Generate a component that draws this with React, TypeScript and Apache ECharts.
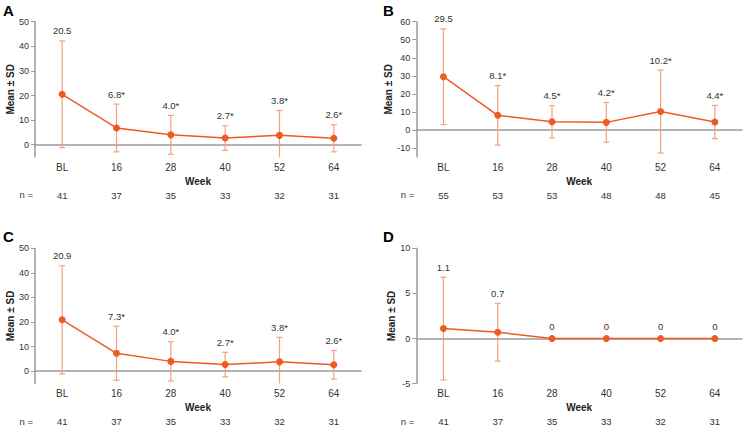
import React, { useEffect, useRef } from "react";
import * as echarts from "echarts";

const categories = ["BL", "16", "28", "40", "52", "64"];

const meanA = [20.5, 6.8, 4.0, 2.7, 3.8, 2.6];
const sdA = [21.7, 9.7, 7.9, 5.0, 10.1, 5.5];
const labelA = ["20.5", "6.8*", "4.0*", "2.7*", "3.8*", "2.6*"];
const nA = ["41", "37", "35", "33", "32", "31"];
const yTicksA = [0, 10, 20, 30, 40, 50];

const meanB = [29.5, 8.1, 4.5, 4.2, 10.2, 4.4];
const sdB = [26.5, 16.5, 9.0, 11.0, 23.0, 9.2];
const labelB = ["29.5", "8.1*", "4.5*", "4.2*", "10.2*", "4.4*"];
const nB = ["55", "53", "53", "48", "48", "45"];
const yTicksB = [-10, 0, 10, 20, 30, 40, 50, 60];

const meanC = [20.9, 7.3, 4.0, 2.7, 3.8, 2.6];
const sdC = [22.0, 11.0, 8.0, 5.0, 10.0, 5.8];
const labelC = ["20.9", "7.3*", "4.0*", "2.7*", "3.8*", "2.6*"];
const nC = ["41", "37", "35", "33", "32", "31"];
const yTicksC = [0, 10, 20, 30, 40, 50];

const meanD = [1.1, 0.7, 0, 0, 0, 0];
const sdD = [5.7, 3.2, 0, 0, 0, 0];
const labelD = ["1.1", "0.7", "0", "0", "0", "0"];
const nD = ["41", "37", "35", "33", "32", "31"];
const yTicksD = [-5, 0, 5, 10];

const FONT = "'Liberation Sans', Arial, Helvetica, sans-serif";
const LINE_COLOR = "#EE5A24";
const ERR_COLOR = "#F4A07F";
const AXIS_COLOR = "#9A9A9A";
const TEXT_COLOR = "#333333";

type Panel = {
  letter: string;
  mean: number[];
  sd: number[];
  labels: string[];
  n: string[];
  ticks: number[];
  min: number;
  max: number;
  left: number;
  top: number;
  width: number;
  height: number;
};

const panels: Panel[] = [
  { letter: "A", mean: meanA, sd: sdA, labels: labelA, n: nA, ticks: yTicksA, min: -5, max: 50, left: 35, top: 21.7, width: 326, height: 135.3 },
  { letter: "B", mean: meanB, sd: sdB, labels: labelB, n: nB, ticks: yTicksB, min: -15, max: 60, left: 416.3, top: 21.7, width: 325.7, height: 135.3 },
  { letter: "C", mean: meanC, sd: sdC, labels: labelC, n: nC, ticks: yTicksC, min: -5, max: 50, left: 35, top: 248.3, width: 326, height: 135.2 },
  { letter: "D", mean: meanD, sd: sdD, labels: labelD, n: nD, ticks: yTicksD, min: -5, max: 10, left: 416.3, top: 248.3, width: 325.7, height: 135.3 },
];

export default function App() {
  const ref = useRef<HTMLDivElement>(null);
  useEffect(() => {
    document.body.style.margin = "0";
    if (!ref.current) return;
    const chart = echarts.init(ref.current, undefined, { renderer: "svg" });
    const grid: any[] = [];
    const xAxis: any[] = [];
    const yAxis: any[] = [];
    const series: any[] = [];
    const graphic: any[] = [];

    panels.forEach((p, i) => {
      grid.push({ left: p.left, top: p.top, width: p.width, height: p.height, containLabel: false });
      xAxis.push({
        type: "category",
        gridIndex: i,
        data: categories,
        boundaryGap: true,
        axisLine: { lineStyle: { color: AXIS_COLOR, width: 1.5 } },
        axisTick: { show: false },
        axisLabel: { color: TEXT_COLOR, fontSize: 10, fontFamily: FONT, margin: 5 },
        name: "Week",
        nameLocation: "middle",
        nameGap: 19,
        nameTextStyle: { color: "#222", fontSize: 10, fontWeight: "bold", fontFamily: FONT },
      });
      xAxis.push({
        type: "category",
        gridIndex: i,
        position: "bottom",
        data: p.n,
        boundaryGap: true,
        axisLine: { show: false },
        axisTick: { show: false },
        axisLabel: { color: TEXT_COLOR, fontSize: 9.5, fontFamily: FONT, margin: 33 },
      });
      yAxis.push({
        type: "value",
        gridIndex: i,
        min: p.min,
        max: p.max,
        splitLine: { show: false },
        axisLine: { show: true, lineStyle: { color: AXIS_COLOR, width: 1.5 } },
        axisTick: { show: true, length: 4, lineStyle: { color: AXIS_COLOR }, customValues: p.ticks },
        axisLabel: { color: TEXT_COLOR, fontSize: 9, fontFamily: FONT, margin: 6, customValues: p.ticks },
        name: "Mean ± SD",
        nameLocation: "middle",
        nameGap: 20,
        nameRotate: 90,
        nameTextStyle: { color: "#222", fontSize: 10, fontWeight: "bold", fontFamily: FONT },
      });

      const errData = p.mean.map((m, k) => [k, m, p.sd[k]]);
      series.push({
        type: "custom",
        xAxisIndex: i * 2,
        yAxisIndex: i,
        z: 1,
        data: errData,
        renderItem: (params: any, api: any) => {
          const idx = api.value(0);
          const m = api.value(1);
          const s = api.value(2);
          const top = api.coord([idx, m + s]);
          const bot = api.coord([idx, m - s]);
          const cs = params.coordSys;
          const bottomEdge = cs.y + cs.height;
          const clamped = bot[1] > bottomEdge;
          const botY = clamped ? bottomEdge : bot[1];
          const children: any[] = [];
          const st = { stroke: ERR_COLOR, lineWidth: 1.2 };
          if (s > 0) {
            children.push({ type: "line", shape: { x1: top[0], y1: top[1], x2: top[0], y2: botY }, style: st });
            children.push({ type: "line", shape: { x1: top[0] - 3, y1: top[1], x2: top[0] + 3, y2: top[1] }, style: st });
            if (!clamped) {
              children.push({ type: "line", shape: { x1: bot[0] - 3, y1: bot[1], x2: bot[0] + 3, y2: bot[1] }, style: st });
            }
          }
          children.push({
            type: "text",
            style: {
              text: p.labels[params.dataIndex],
              x: top[0],
              y: top[1] - (s > 0 ? 5 : 7),
              align: "center",
              verticalAlign: "bottom",
              fill: TEXT_COLOR,
              fontSize: 9.5,
              fontFamily: FONT,
            },
          });
          return { type: "group", children };
        },
      });
      series.push({
        type: "line",
        xAxisIndex: i * 2,
        yAxisIndex: i,
        z: 3,
        data: p.mean,
        symbol: "circle",
        symbolSize: 7,
        lineStyle: { color: LINE_COLOR, width: 1.5 },
        itemStyle: { color: LINE_COLOR },
        label: { show: false },
      });

      graphic.push({
        type: "text",
        x: i % 2 === 0 ? 3 : 383,
        y: p.top - 19,
        style: { text: p.letter, fontSize: 15, fontWeight: "bold", fontFamily: FONT, fill: "#000" },
      });
      graphic.push({
        type: "text",
        x: p.left - 2,
        y: p.top + p.height + 37.5,
        style: { text: "n =", fontSize: 9.5, fontFamily: FONT, fill: TEXT_COLOR, align: "right", verticalAlign: "middle" },
      });
    });

    chart.setOption({
      animation: false,
      backgroundColor: "#ffffff",
      grid,
      xAxis,
      yAxis,
      series,
      graphic,
    });
    return () => chart.dispose();
  }, []);
  return <div ref={ref} style={{ width: 745, height: 428 }} />;
}
